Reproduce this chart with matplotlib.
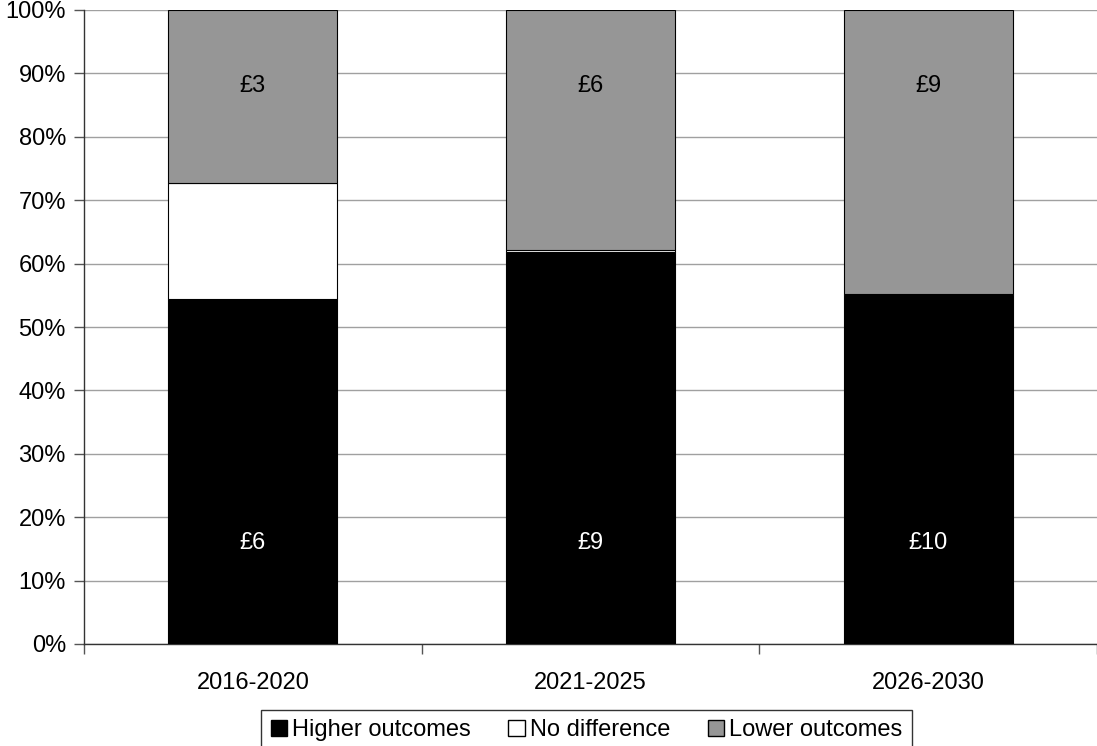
import matplotlib.pyplot as plt
import numpy as np

plt.rcParams["font.family"] = ["Liberation Sans", "DejaVu Sans"]

periods = ["2016-2020", "2021-2025", "2026-2030"]
higher = [54.4, 61.8, 55.0]
no_diff = [18.3, 0.3, 0.15]
lower = [27.3, 37.9, 44.85]
higher_labels = ["£6", "£9", "£10"]
lower_labels = ["£3", "£6", "£9"]

fs = 17

fig = plt.figure(figsize=(10.97, 7.46), dpi=100)
ax = fig.add_axes([84 / 1097, 1 - 644 / 746, 1 - 84 / 1097, 634 / 746])

x = np.arange(len(periods))
w = 0.5
ax.bar(x, higher, w, color="black", edgecolor="black", linewidth=0.8, label="Higher outcomes", zorder=3)
ax.bar(x, no_diff, w, bottom=higher, color="white", edgecolor="black", linewidth=0.8, label="No difference", zorder=3)
bottom2 = [h + n for h, n in zip(higher, no_diff)]
ax.bar(x, lower, w, bottom=bottom2, color="#969696", edgecolor="black", linewidth=0.8, label="Lower outcomes", zorder=3)

for i in range(len(periods)):
    ax.text(x[i], 15.9, higher_labels[i], color="white", ha="center", va="center", fontsize=fs, zorder=4)
    ax.text(x[i], 88.0, lower_labels[i], color="black", ha="center", va="center", fontsize=fs, zorder=4)

ax.set_xlim(-0.5, 2.5)
ax.set_ylim(0, 100)
ax.set_yticks(range(0, 101, 10))
ax.set_yticklabels([f"{v}%" for v in range(0, 101, 10)], fontsize=fs)
ax.yaxis.grid(True, color="#a0a0a0", linewidth=1, zorder=0)

ax.set_xticks([-0.5, 0.5, 1.5, 2.5])
ax.set_xticklabels([])
ax.set_xticks(x, minor=True)
ax.set_xticklabels(periods, minor=True, fontsize=fs)
ax.tick_params(axis="x", which="minor", length=0, pad=20)
ax.tick_params(axis="x", which="major", length=7, width=1, color="#555555")
ax.tick_params(axis="y", length=7, width=1, color="#555555", pad=6)

for s in ["top", "right"]:
    ax.spines[s].set_visible(False)
for s in ["left", "bottom"]:
    ax.spines[s].set_color("#333333")
    ax.spines[s].set_linewidth(1)

leg = fig.legend(loc="upper center", bbox_to_anchor=(586.5 / 1097, 1 - 698 / 746), ncol=3,
                 fontsize=fs, frameon=True, fancybox=False, edgecolor="black",
                 handlelength=0.7, handleheight=0.7, handletextpad=0.2, columnspacing=1.6,
                 borderpad=0.4)
leg.get_frame().set_linewidth(1)
for h in leg.legend_handles:
    h.set_edgecolor("black")
    h.set_linewidth(1)

fig.savefig("out.png", dpi=100)
